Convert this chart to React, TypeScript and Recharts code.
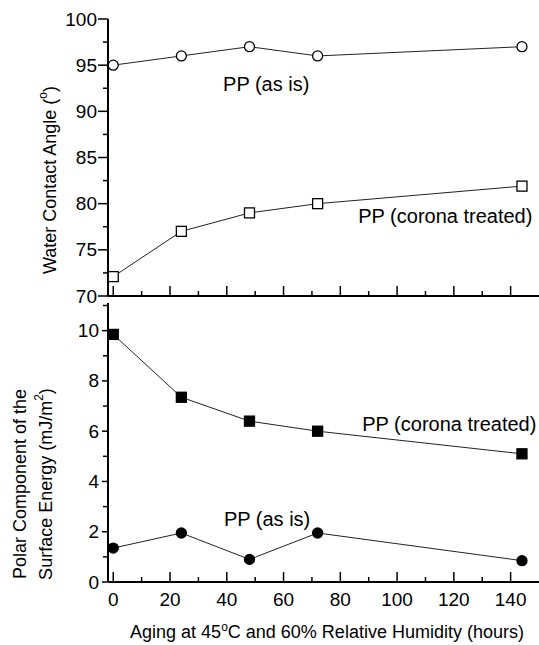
import React from "react";
import { LineChart, Line, XAxis, YAxis, ReferenceDot, Label } from "recharts";

// aging time (hours)
const hours = [0, 24, 48, 72, 144];
// water contact angle (deg)
const angleAsIs = [95, 96, 97, 96, 97];
const angleCorona = [72.1, 77, 79, 80, 81.9];
// polar component of surface energy (mJ/m2)
const polarCorona = [9.85, 7.35, 6.4, 6.0, 5.1];
const polarAsIs = [1.35, 1.95, 0.9, 1.95, 0.85];

const xTicks = [0, 10, 20, 30, 40, 50, 60, 70, 80, 90, 100, 110, 120, 130, 140];
const angleTicks = [70, 72.5, 75, 77.5, 80, 82.5, 85, 87.5, 90, 92.5, 95, 97.5, 100];
const polarTicks = [0, 1, 2, 3, 4, 5, 6, 7, 8, 9, 10, 11];

const topData = hours.map((h, i) => ({ h, asIs: angleAsIs[i], corona: angleCorona[i] }));
const bottomData = hours.map((h, i) => ({ h, asIs: polarAsIs[i], corona: polarCorona[i] }));

const FONT = "'Liberation Sans', Arial, Helvetica, sans-serif";
const X_DOMAIN: [number, number] = [-1.85, 150];

const XTick = (props: any) => {
  const { x, y, payload, showLabel } = props;
  const v = payload.value;
  const major = v % 20 === 0;
  return (
    <g>
      <line x1={x} x2={x} y1={y} y2={y - (major ? 10 : 5)} stroke="#000" strokeWidth={1.5} />
      {showLabel && major && (
        <text x={x} y={y + 24} textAnchor="middle" fontSize={19} fontFamily={FONT} fill="#000">
          {v}
        </text>
      )}
    </g>
  );
};

const YTick = (props: any) => {
  const { x, y, payload, step, majorLen, minorLen, gap } = props;
  const v = payload.value;
  const major = Math.abs(v / step - Math.round(v / step)) < 1e-6;
  return (
    <g>
      <line x1={x} x2={x - (major ? majorLen : minorLen)} y1={y} y2={y} stroke="#000" strokeWidth={1.5} />
      {major && (
        <text x={x - gap} y={y + 6.5} textAnchor="end" fontSize={19} fontFamily={FONT} fill="#000">
          {v}
        </text>
      )}
    </g>
  );
};

const squareDot = (filled: boolean, size: number) => (p: any) => (
  <rect
    key={`sq-${p.index}`}
    x={p.cx - size / 2}
    y={p.cy - size / 2}
    width={size}
    height={size}
    fill={filled ? "#000" : "#fff"}
    stroke="#000"
    strokeWidth={1.3}
  />
);

const circleDot = (filled: boolean, r: number) => (p: any) => (
  <circle key={`ci-${p.index}`} cx={p.cx} cy={p.cy} r={r} fill={filled ? "#000" : "#fff"} stroke="#000" strokeWidth={1.3} />
);

const annot = (value: string) => ({
  value,
  position: "center" as const,
  fontSize: 20,
  fill: "#000",
  fontFamily: FONT,
});

export default function App() {
  return (
    <div style={{ position: "absolute", left: 0, top: 0, width: 539, height: 645, background: "#fff", fontFamily: FONT }}>
      <div style={{ position: "absolute", left: 0, top: 0 }}>
        <LineChart width={539} height={310} data={topData} margin={{ top: 19, right: 0, left: 0, bottom: 0 }}>
          <XAxis
            dataKey="h"
            type="number"
            domain={X_DOMAIN}
            ticks={xTicks}
            interval={0}
            height={14}
            tickSize={0}
            tickMargin={0}
            tickLine={false}
            axisLine={{ stroke: "#000", strokeWidth: 2 }}
            tick={(p: any) => <XTick {...p} showLabel={false} />}
            allowDataOverflow
          />
          <YAxis
            type="number"
            domain={[70, 100]}
            ticks={angleTicks}
            interval={0}
            width={108}
            tickSize={0}
            tickMargin={0}
            tickLine={false}
            axisLine={{ stroke: "#000", strokeWidth: 2 }}
            tick={(p: any) => <YTick {...p} step={5} majorLen={10} minorLen={5} gap={11} />}
          >
            <Label
              content={() => (
                <text
                  x={50}
                  y={180}
                  transform="rotate(-90 50 180)"
                  textAnchor="middle"
                  dominantBaseline="central"
                  fontSize={18}
                  fontFamily={FONT}
                  fill="#000"
                >
                  Water Contact Angle (<tspan baselineShift="super" fontSize={12}>o</tspan>)
                </text>
              )}
            />
          </YAxis>
          <Line dataKey="asIs" stroke="#222" strokeWidth={1} dot={circleDot(false, 5)} isAnimationActive={false} />
          <Line dataKey="corona" stroke="#222" strokeWidth={1} dot={squareDot(false, 10)} isAnimationActive={false} />
          <ReferenceDot x={53.9} y={92.96} r={0} fill="none" stroke="none" label={annot("PP (as is)")} />
          <ReferenceDot x={117} y={78.66} r={0} fill="none" stroke="none" label={annot("PP (corona treated)")} />
        </LineChart>
      </div>
      <div style={{ position: "absolute", left: 0, top: 300 }}>
        <LineChart width={539} height={345} data={bottomData} margin={{ top: 3, right: 0, left: 0, bottom: 0 }}>
          <XAxis
            dataKey="h"
            type="number"
            domain={X_DOMAIN}
            ticks={xTicks}
            interval={0}
            height={63}
            tickSize={0}
            tickMargin={0}
            tickLine={false}
            axisLine={{ stroke: "#000", strokeWidth: 2 }}
            tick={(p: any) => <XTick {...p} showLabel />}
            allowDataOverflow
          >
            <Label
              content={() => (
                <text x={327} y={338} textAnchor="middle" fontSize={18} fontFamily={FONT} fill="#000">
                  Aging at 45<tspan baselineShift="super" fontSize={12}>o</tspan>C and 60% Relative Humidity (hours)
                </text>
              )}
            />
          </XAxis>
          <YAxis
            type="number"
            domain={[0, 11.1]}
            ticks={polarTicks}
            interval={0}
            width={108}
            tickSize={0}
            tickMargin={0}
            tickLine={false}
            axisLine={{ stroke: "#000", strokeWidth: 2 }}
            tick={(p: any) => <YTick {...p} step={2} majorLen={6} minorLen={5} gap={9} />}
          >
            <Label
              content={() => (
                <g>
                  <text
                    x={20}
                    y={184}
                    transform="rotate(-90 20 184)"
                    textAnchor="middle"
                    dominantBaseline="central"
                    fontSize={18}
                    fontFamily={FONT}
                    fill="#000"
                  >
                    Polar Component of the
                  </text>
                  <text
                    x={46}
                    y={184}
                    transform="rotate(-90 46 184)"
                    textAnchor="middle"
                    dominantBaseline="central"
                    fontSize={18}
                    fontFamily={FONT}
                    fill="#000"
                  >
                    Surface Energy (mJ/m<tspan baselineShift="super" fontSize={12}>2</tspan>)
                  </text>
                </g>
              )}
            />
          </YAxis>
          <Line dataKey="corona" stroke="#222" strokeWidth={1} dot={squareDot(true, 10)} isAnimationActive={false} />
          <Line dataKey="asIs" stroke="#222" strokeWidth={1} dot={circleDot(true, 5)} isAnimationActive={false} />
          <ReferenceDot x={118.4} y={6.3} r={0} fill="none" stroke="none" label={annot("PP (corona treated)")} />
          <ReferenceDot x={54.2} y={2.53} r={0} fill="none" stroke="none" label={annot("PP (as is)")} />
        </LineChart>
      </div>
    </div>
  );
}
